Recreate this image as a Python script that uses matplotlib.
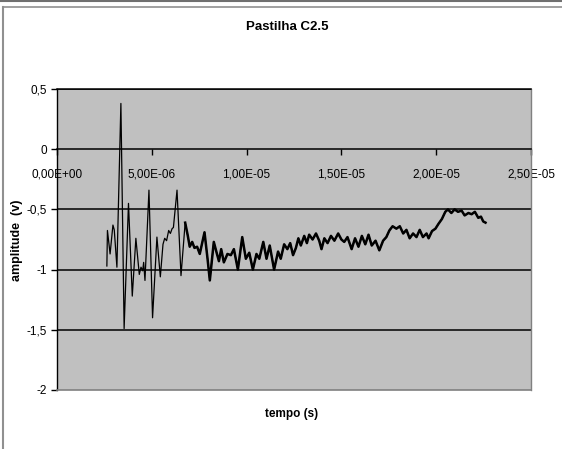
import numpy as np
import matplotlib
matplotlib.use("Agg")
import matplotlib.pyplot as plt
from matplotlib.lines import Line2D
from matplotlib.ticker import FixedLocator

plt.rcParams['font.family'] = ['Liberation Sans', 'DejaVu Sans']

title = "Pastilha C2.5"
xlabel = "tempo (s)"
ylabel = "amplitude  (v)"

# time in microseconds, amplitude in volts
t_us = [2.63, 2.66, 2.80, 2.95, 3.02, 3.16, 3.37, 3.54, 3.77, 3.97, 4.16, 4.34, 4.43, 4.52,
        4.57, 4.64, 4.85, 5.04, 5.27, 5.45, 5.59, 5.68, 5.78, 5.89, 5.98, 6.07, 6.14, 6.33,
        6.54, 6.76, 6.90, 7.00, 7.13, 7.25, 7.39, 7.53, 7.78, 7.94, 8.06, 8.27, 8.42, 8.54,
        8.66, 8.80, 8.99, 9.17, 9.33, 9.54, 9.77, 9.96, 10.14, 10.33, 10.52, 10.67, 10.88,
        11.05, 11.22, 11.45, 11.66, 11.80, 11.98, 12.15, 12.30, 12.45, 12.60, 12.73, 12.86,
        13.04, 13.18, 13.30, 13.48, 13.66, 13.83, 13.95, 14.10, 14.27, 14.45, 14.63, 14.83,
        15.00, 15.15, 15.32, 15.54, 15.72, 15.90, 16.08, 16.26, 16.43, 16.60, 16.80, 17.00,
        17.20, 17.37, 17.53, 17.70, 17.90, 18.08, 18.26, 18.43, 18.60, 18.78, 18.96, 19.13,
        19.30, 19.49, 19.60, 19.78, 19.96, 20.12, 20.30, 20.48, 20.62, 20.80, 20.97, 21.15,
        21.34, 21.50, 21.70, 21.87, 22.04, 22.22, 22.36, 22.48, 22.60]
amp = [-0.97, -0.675, -0.87, -0.63, -0.67, -0.98, 0.38, -1.49, -0.45, -1.22, -0.74, -1.04, -0.98, -1.01,
       -0.94, -1.09, -0.34, -1.40, -0.73, -1.06, -0.79, -0.74, -0.76, -0.675, -0.70, -0.66, -0.65, -0.34,
       -1.05, -0.61, -0.72, -0.81, -0.77, -0.82, -0.81, -0.87, -0.69, -0.91, -1.09, -0.77, -0.86, -0.93,
       -0.83, -0.94, -0.87, -0.88, -0.83, -1.00, -0.73, -0.91, -0.86, -1.00, -0.87, -0.91, -0.77,
       -0.91, -0.80, -1.00, -0.85, -0.91, -0.79, -0.83, -0.78, -0.88, -0.82, -0.74, -0.80,
       -0.72, -0.78, -0.71, -0.75, -0.70, -0.76, -0.83, -0.74, -0.78, -0.72, -0.76, -0.70,
       -0.75, -0.77, -0.73, -0.83, -0.74, -0.81, -0.72, -0.79, -0.71, -0.80, -0.76, -0.84,
       -0.76, -0.73, -0.675, -0.64, -0.66, -0.64, -0.70, -0.67, -0.74, -0.70, -0.73, -0.67,
       -0.73, -0.70, -0.74, -0.68, -0.66, -0.62, -0.58, -0.52, -0.50, -0.53, -0.50, -0.52,
       -0.51, -0.55, -0.53, -0.54, -0.52, -0.57, -0.56, -0.60, -0.61]

x_ticks = [0, 5e-6, 1e-5, 1.5e-5, 2e-5, 2.5e-5]
x_ticklabels = ["0,00E+00", "5,00E-06", "1,00E-05", "1,50E-05", "2,00E-05", "2,50E-05"]
y_ticks = [0.5, 0, -0.5, -1, -1.5, -2]
y_ticklabels = ["0,5", "0", "-0,5", "-1", "-1,5", "-2"]

t = np.array(t_us) * 1e-6
a = np.array(amp)

W, H = 562, 449
fig = plt.figure(figsize=(W / 100, H / 100), dpi=100)
fig.patch.set_facecolor('white')

L, R, T, B = 57, 531, 89, 390
ax = fig.add_axes([L / W, 1 - B / H, (R - L) / W, (B - T) / H])
ax.set_facecolor('#C0C0C0')
ax.set_xlim(0, 2.5e-5)
ax.set_ylim(-2, 0.5)

for yv in y_ticks:
    if yv not in (0, -2):
        ax.axhline(yv, color='black', lw=1.1, zorder=1)

ax.plot(t, a, color='black', lw=0.9, zorder=3)
mask = t >= 6.6e-6
ax.plot(t[mask], a[mask], color='black', lw=1.8, zorder=3)

# spines
ax.spines['left'].set_color('black')
ax.spines['left'].set_linewidth(1.0)
ax.spines['bottom'].set_position(('data', 0))
ax.spines['bottom'].set_color('black')
ax.spines['bottom'].set_linewidth(1.1)
ax.spines['top'].set_color('black')
ax.spines['top'].set_linewidth(1.1)
ax.spines['right'].set_color('#808080')
ax.spines['right'].set_linewidth(1.0)
ax.axhline(-2, color='#808080', lw=1.2, zorder=4, clip_on=False)

ax.xaxis.set_major_locator(FixedLocator(x_ticks))
ax.set_xticklabels(x_ticklabels)
ax.yaxis.set_major_locator(FixedLocator(y_ticks))
ax.set_yticklabels(y_ticklabels)
ax.tick_params(axis='x', direction='out', length=4, width=1, color='black', pad=10,
               labelsize=8.5, labelcolor='black')
ax.tick_params(axis='y', direction='out', length=4, width=1, color='black', pad=3,
               labelsize=8.5, labelcolor='black')

fig.text(287 / W, 1 - 27 / H, title, ha='center', va='center',
         fontsize=9.5, fontweight='bold')
fig.text(292 / W, 1 - 414 / H, xlabel, ha='center', va='center',
         fontsize=8.5, fontweight='bold')
fig.text(17 / W, 1 - 240 / H, ylabel, ha='center', va='center', rotation=90,
         fontsize=9, fontweight='bold')

# chart frame
fig.add_artist(Line2D([0, 1], [1 - 0.8 / H, 1 - 0.8 / H], color='#707070', lw=1.5))
fig.add_artist(Line2D([2.5 / W, 1], [1 - 6.5 / H, 1 - 6.5 / H], color='#909090', lw=1.2))
fig.add_artist(Line2D([2.5 / W, 2.5 / W], [0, 1 - 6.5 / H], color='#909090', lw=1.5))

fig.savefig('out.png', dpi=100, facecolor='white')
